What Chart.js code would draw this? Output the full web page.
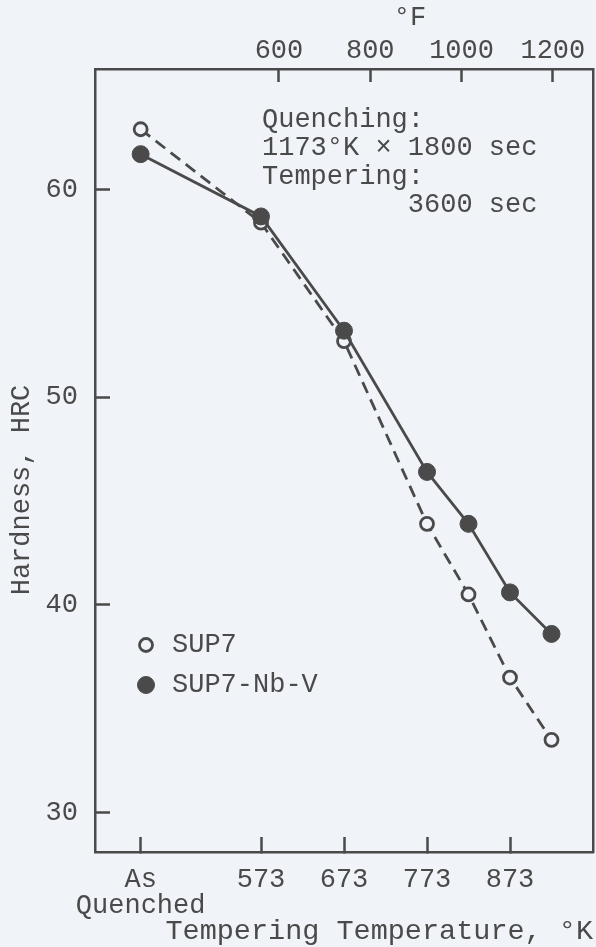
<!DOCTYPE html>
<html><head><meta charset="utf-8">
<script src="https://cdn.jsdelivr.net/npm/chart.js@4.4.1/dist/chart.umd.min.js"></script>
<style>
html,body{margin:0;padding:0;background:#f0f3f8;overflow:hidden;}
canvas{display:block;}
</style></head><body>
<canvas id="c" width="596" height="947"></canvas>
<script>
// ---- data ----
const temperaturesK = [428, 573, 673, 773, 823, 873, 923];
const sup7 = [62.9, 58.4, 52.7, 43.9, 40.5, 36.5, 33.5];
const sup7NbV = [61.7, 58.7, 53.2, 46.4, 43.9, 40.6, 38.6];
const seriesNames = ['SUP7', 'SUP7-Nb-V'];
const kelvinTicks = [428, 573, 673, 773, 873];
const kelvinTickLabels = [['As', 'Quenched'], '573', '673', '773', '873'];
const fahrenheitTicks = [600, 800, 1000, 1200];
const hardnessTicks = [30, 40, 50, 60];
const noteLines = ['Quenching:', '1173°K × 1800 sec', 'Tempering:', '3600 sec'];
const xTitle = 'Tempering Temperature, °K';
const yTitle = 'Hardness, HRC';
const topTitle = '°F';

// ---- style ----
const FONT = "'Liberation Mono', 'Courier New', monospace";
const INK = '#4a4a4a';
const BG = '#f0f3f8';
const FS = 27;

const extraText = {
  id: 'extraText',
  afterDraw(chart) {
    const c = chart.ctx;
    c.save();
    c.fillStyle = INK;
    c.font = FS + 'px ' + FONT;
    c.textBaseline = 'middle';
    // annotation
    c.textAlign = 'left';
    const nx = 262, ny = [120, 148, 177, 205];
    c.fillText(noteLines[0], nx, ny[0]);
    c.fillText(noteLines[1], nx, ny[1]);
    c.fillText(noteLines[2], nx, ny[2]);
    const endX = nx + c.measureText(noteLines[1]).width;
    c.textAlign = 'right';
    c.fillText(noteLines[3], endX, ny[3]);
    // top axis title
    c.textAlign = 'center';
    c.fillText(topTitle, 410, 18);
    // y title
    c.save();
    c.translate(22, 490);
    c.rotate(-Math.PI / 2);
    c.fillText(yTitle, 0, 0);
    c.restore();
    // legend
    const ds = chart.data.datasets;
    const ly = [645, 685];
    ds.forEach((d, i) => {
      c.beginPath();
      c.arc(146, ly[i], d.pointRadius, 0, Math.PI * 2);
      c.fillStyle = d.pointBackgroundColor;
      c.fill();
      c.lineWidth = d.pointBorderWidth;
      c.strokeStyle = d.pointBorderColor;
      c.stroke();
      c.fillStyle = INK;
      c.textAlign = 'left';
      c.fillText(d.label, 172, ly[i]);
    });
    c.restore();
  }
};

const noSidePad = s => { s.paddingLeft = 0; s.paddingRight = 0; };

new Chart(document.getElementById('c'), {
  type: 'line',
  data: {
    datasets: [
      {
        label: seriesNames[0],
        data: temperaturesK.map((x, i) => ({x, y: sup7[i]})),
        borderColor: INK, borderWidth: 2.8, borderDash: [12, 7],
        pointRadius: 6.5, pointBorderWidth: 2.8,
        pointBackgroundColor: BG, pointBorderColor: INK,
        tension: 0, order: 1
      },
      {
        label: seriesNames[1],
        data: temperaturesK.map((x, i) => ({x, y: sup7NbV[i]})),
        borderColor: INK, borderWidth: 2.8,
        pointRadius: 8.5, pointBorderWidth: 1,
        pointBackgroundColor: INK, pointBorderColor: INK,
        tension: 0, order: 0
      }
    ]
  },
  options: {
    responsive: false,
    animation: false,
    layout: {padding: 0, autoPadding: false},
    plugins: {legend: {display: false}, tooltip: {enabled: false}},
    scales: {
      x: {
        type: 'linear', position: 'bottom', min: 373, max: 973,
        afterBuildTicks: s => { s.ticks = kelvinTicks.map(v => ({value: v})); },
        afterFit: s => { s.height = 95; noSidePad(s); },
        grid: {drawOnChartArea: false, drawTicks: true, tickLength: -15, tickWidth: 2.5, tickColor: INK},
        border: {display: true, color: INK, width: 2.5},
        ticks: {
          font: {family: FONT, size: FS, lineHeight: 0.95}, color: INK, padding: 30,
          maxRotation: 0, autoSkip: false,
          callback: v => { const i = kelvinTicks.indexOf(v); return i >= 0 ? kelvinTickLabels[i] : ''; }
        },
        title: {display: true, text: xTitle, align: 'end', color: INK,
          font: {family: FONT, size: 28.5, lineHeight: 1}, padding: {top: 0, bottom: 1}}
      },
      x2: {
        type: 'linear', position: 'top', min: 197, max: 1288,
        afterBuildTicks: s => { s.ticks = fahrenheitTicks.map(v => ({value: v})); },
        afterFit: s => { s.height = 69; noSidePad(s); },
        grid: {drawOnChartArea: false, drawTicks: true, tickLength: -13, tickWidth: 2.5, tickColor: INK},
        border: {display: true, color: INK, width: 2.5},
        ticks: {font: {family: FONT, size: FS, lineHeight: 1}, color: INK, padding: 17.5,
          maxRotation: 0, autoSkip: false, callback: v => String(v)}
      },
      y: {
        type: 'linear', position: 'left', min: 28.1, max: 65.8,
        afterBuildTicks: s => { s.ticks = hardnessTicks.map(v => ({value: v})); },
        afterFit: s => { s.width = 95; },
        grid: {drawOnChartArea: false, drawTicks: true, tickLength: -15, tickWidth: 2.5, tickColor: INK},
        border: {display: true, color: INK, width: 2.5},
        ticks: {font: {family: FONT, size: FS, lineHeight: 1}, color: INK, padding: 32}
      },
      y2: {
        type: 'linear', position: 'right', min: 28.1, max: 65.8,
        afterFit: s => { s.width = 3; },
        grid: {display: false},
        border: {display: true, color: INK, width: 2.5},
        ticks: {display: false}
      }
    }
  },
  plugins: [extraText]
});
</script>
</body></html>
